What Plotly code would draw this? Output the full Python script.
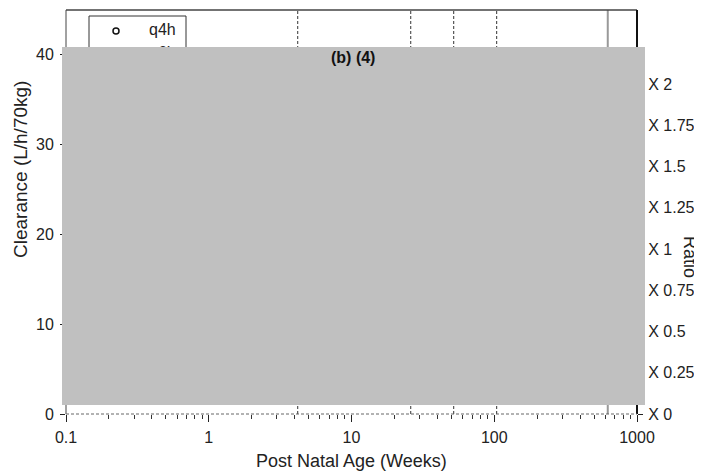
import plotly.graph_objects as go

# ---- data ----
x_tick_vals = [0.1, 1, 10, 100, 1000]
x_tick_text = ["0.1", "1", "10", "100", "1000"]
y_tick_vals = [0, 10, 20, 30, 40]
y_tick_text = ["0", "10", "20", "30", "40"]
ratio_tick_vals = [0, 0.25, 0.5, 0.75, 1, 1.25, 1.5, 1.75, 2]
ratio_tick_text = ["X 0", "X 0.25", "X 0.5", "X 0.75", "X 1", "X 1.25", "X 1.5", "X 1.75", "X 2"]
age_marker_weeks = [4.2, 26, 52, 104]
adult_age_weeks = [624]
legend_labels = ["q4h", "q6h"]
y_max = 45
ratio_max = 2.45

# ---- geometry (page pixels; the page body adds an 8px offset) ----
OFF = 8
W, H = 702 - OFF, 472 - OFF
PL, PR, PT, PB = 66, 637, 10, 414          # plot box in page pixels
ML = PL - OFF
MT = PT - OFF
MR = W - (PR - OFF)
MB = H - (PB - OFF)
PW = PR - PL
PH = PB - PT


def pxx(x):
    return (x - PL) / PW


def pxy(y):
    return (PB - y) / PH


FONT = "Liberation Sans, Arial, sans-serif"
TXT = "#222"

fig = go.Figure()

for w in age_marker_weeks:
    fig.add_trace(go.Scatter(x=[w, w], y=[0, y_max], mode="lines",
                             line=dict(color="#333", width=1, dash="3px,2px"),
                             showlegend=False, hoverinfo="skip"))
for w in adult_age_weeks:
    fig.add_trace(go.Scatter(x=[w, w], y=[0, y_max], mode="lines",
                             line=dict(color="#999", width=2),
                             showlegend=False, hoverinfo="skip"))

# hand-drawn legend (sits behind the grey panel)
fig.add_trace(go.Scatter(x=[pxx(116)], y=[pxy(31)], xaxis="x2", yaxis="y3",
                         mode="markers",
                         marker=dict(symbol="circle-open", size=6, color="#111",
                                     line=dict(width=1.5, color="#111")),
                         showlegend=False, hoverinfo="skip"))
fig.add_trace(go.Scatter(x=[pxx(149), pxx(149)], y=[pxy(31), pxy(54)],
                         xaxis="x2", yaxis="y3", mode="text",
                         text=legend_labels, textposition="middle right",
                         textfont=dict(size=16, color=TXT, family=FONT),
                         showlegend=False, hoverinfo="skip"))

shapes = [
    # legend box
    dict(type="rect", xref="paper", yref="paper", x0=pxx(89), x1=pxx(186),
         y0=pxy(120), y1=pxy(16), line=dict(color="#333", width=1),
         fillcolor="rgba(0,0,0,0)", layer="above"),
    # frame
    dict(type="line", xref="paper", yref="paper", x0=0, x1=1, y0=1, y1=1,
         line=dict(color="#444", width=1.5), layer="above"),
    dict(type="line", xref="paper", yref="paper", x0=0, x1=0, y0=0, y1=1,
         line=dict(color="#444", width=1), layer="above"),
    dict(type="line", xref="paper", yref="paper", x0=1, x1=1, y0=0, y1=1,
         line=dict(color="#111", width=2), layer="above"),
    dict(type="line", xref="paper", yref="paper", x0=0, x1=1, y0=0, y1=0,
         line=dict(color="#666", width=1, dash="3px,2px"), layer="above"),
    # grey panel
    dict(type="rect", xref="paper", yref="paper", x0=pxx(62), x1=pxx(645),
         y0=pxy(405), y1=pxy(47), line=dict(width=0), fillcolor="#c0c0c0",
         layer="above"),
]

annotations = [
    dict(text="<b>(b) (4)</b>", xref="paper", yref="paper", x=pxx(353), y=pxy(57),
         showarrow=False, font=dict(size=16, color="#111", family=FONT),
         xanchor="center", yanchor="middle"),
    dict(text="Post Natal Age (Weeks)", xref="paper", yref="paper",
         x=pxx(351), y=pxy(461), showarrow=False,
         font=dict(size=18, color=TXT, family=FONT), xanchor="center", yanchor="middle"),
    dict(text="Clearance (L/h/70kg)", xref="paper", yref="paper",
         x=pxx(20), y=pxy(170), showarrow=False, textangle=-90,
         font=dict(size=19, color=TXT, family=FONT), xanchor="center", yanchor="middle"),
    dict(text="Ratio", xref="paper", yref="paper",
         x=pxx(690), y=pxy(257), showarrow=False, textangle=90,
         font=dict(size=18, color=TXT, family=FONT), xanchor="center", yanchor="middle"),
]

fig.update_layout(
    width=W, height=H,
    margin=dict(l=ML, r=MR, t=MT, b=MB, pad=0, autoexpand=False),
    paper_bgcolor="white", plot_bgcolor="white",
    font=dict(family=FONT, color=TXT, size=16),
    showlegend=False,
    xaxis=dict(type="log", range=[-1, 3], tickmode="array",
               tickvals=x_tick_vals, ticktext=x_tick_text,
               ticks="outside", ticklen=7, tickwidth=1, tickcolor="#222",
               showgrid=False, zeroline=False, showline=False,
               ticklabelstandoff=2,
               tickfont=dict(size=16, color=TXT),
               minor=dict(ticks="outside", ticklen=4, tickcolor="#333",
                          dtick="D1", showgrid=False)),
    yaxis=dict(range=[0, y_max], tickmode="array", tickvals=y_tick_vals,
               ticktext=y_tick_text, ticks="outside", ticklen=5,
               tickcolor="#222", showgrid=False, zeroline=False, showline=False,
               ticklabelstandoff=3,
               tickfont=dict(size=16, color=TXT)),
    yaxis2=dict(overlaying="y", side="right", range=[0, ratio_max],
                tickmode="array", tickvals=ratio_tick_vals, ticktext=ratio_tick_text,
                ticks="outside", ticklen=5, tickcolor="#222",
                showgrid=False, zeroline=False, showline=False,
                ticklabelstandoff=2,
                tickfont=dict(size=16, color=TXT)),
    xaxis2=dict(overlaying="x", range=[0, 1], visible=False),
    yaxis3=dict(overlaying="y", range=[0, 1], visible=False),
    shapes=shapes,
    annotations=annotations,
)

# empty trace so the right axis is drawn
fig.add_trace(go.Scatter(x=[], y=[], yaxis="y2", showlegend=False))

fig.write_html("out.html")
